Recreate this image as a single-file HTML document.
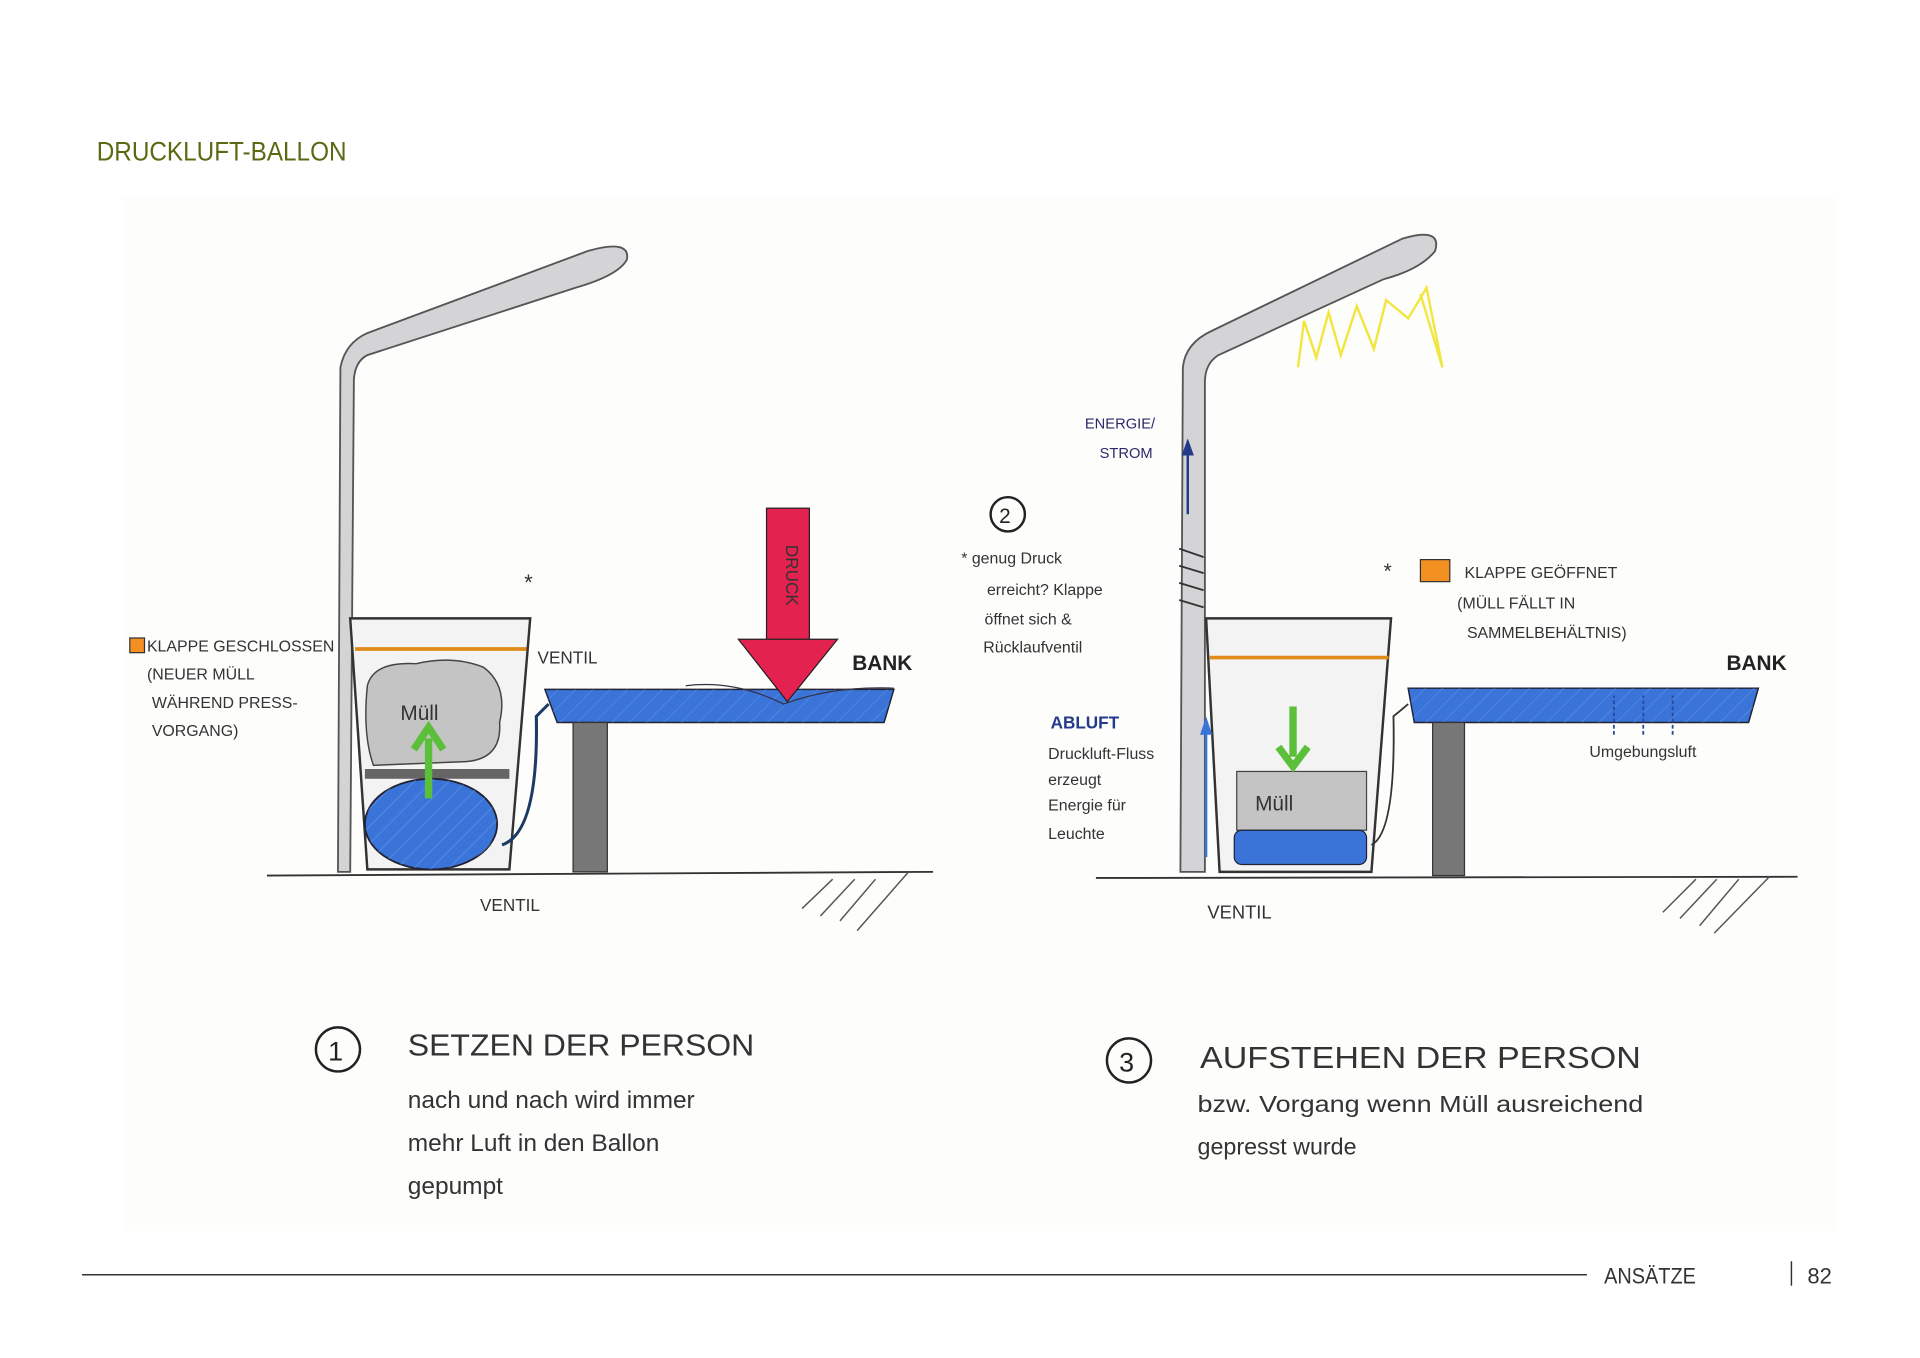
<!DOCTYPE html>
<html><head><meta charset="utf-8"><style>
html,body{margin:0;padding:0;background:#fff;width:1920px;height:1358px;overflow:hidden}
svg{display:block}
text{font-family:"Liberation Sans",sans-serif}
</style></head><body>
<svg width="1920" height="1358" viewBox="0 0 1568 1109" xmlns="http://www.w3.org/2000/svg">
<defs><pattern id="h" width="10" height="10" patternUnits="userSpaceOnUse" patternTransform="rotate(45)"><line x1="0" y1="0" x2="0" y2="10" stroke="#6a98e8" stroke-width="2"/></pattern></defs>
<rect x="100" y="160" width="1400" height="845" fill="#fdfdfc"/>
<text x="79" y="131" font-size="22" fill="#5a6a12" textLength="204" lengthAdjust="spacingAndGlyphs">DRUCKLUFT-BALLON</text>

<!-- LEFT SKETCH -->
<path d="M276,712 L278,300 Q282,280 300,272 L480,205 Q515,195 512,212 Q505,225 470,235 L300,290 Q290,295 289,310 L286,712 Z" fill="#d4d4d6" stroke="#555" stroke-width="1.5"/>
<line x1="218" y1="715" x2="762" y2="712" stroke="#333" stroke-width="1.5"/>
<g stroke="#555" stroke-width="1.2"><line x1="655" y1="742" x2="680" y2="718"/><line x1="670" y1="748" x2="698" y2="718"/><line x1="686" y1="752" x2="715" y2="718"/><line x1="700" y1="760" x2="742" y2="712"/></g>
<path d="M286,505 L433,505 L416,710 L300,710 Z" fill="#f3f3f3" stroke="#333" stroke-width="2"/>
<line x1="290" y1="530" x2="430" y2="530" stroke="#e08a1a" stroke-width="3"/>
<path d="M300,560 Q305,540 340,542 Q370,535 395,545 Q415,560 408,590 Q410,620 380,622 L305,625 Q296,600 300,560Z" fill="#c4c4c4" stroke="#444" stroke-width="1.2"/>
<rect x="298" y="628" width="118" height="8" fill="#666"/>
<ellipse cx="352" cy="673" rx="54" ry="37" fill="#3a74d8" stroke="#223" stroke-width="1.5"/>
<ellipse cx="352" cy="673" rx="54" ry="37" fill="url(#h)" opacity="0.5"/>
<path d="M350,652 L350,603 M338,612 L350,594 L362,612" stroke="#5bbf3a" stroke-width="6" fill="none"/>
<text x="327" y="588" font-size="17" fill="#333">Müll</text>
<path d="M410,690 Q440,680 438,585 L448,575" stroke="#1b3a66" stroke-width="2.5" fill="none"/>
<path d="M445,563 L730,563 L722,590 L455,590 Z" fill="#3a74d8" stroke="#223" stroke-width="1.2"/>
<path d="M445,563 L730,563 L722,590 L455,590 Z" fill="url(#h)" opacity="0.4"/>
<path d="M560,560 Q600,555 640,575 Q680,560 730,562" stroke="#334" fill="none"/>
<rect x="468" y="590" width="28" height="122" fill="#777" stroke="#333"/>
<rect x="626" y="415" width="35" height="108" fill="#e3224f" stroke="#222"/>
<path d="M603,522 L684,522 L643,573 Z" fill="#e3224f" stroke="#222"/>
<text transform="translate(642,445) rotate(90)" font-size="14" fill="#333">DRUCK</text>
<text x="696" y="547" font-size="17" font-weight="bold" fill="#222">BANK</text>
<text x="439" y="542" font-size="14" fill="#333">VENTIL</text>
<text x="392" y="744" font-size="14" fill="#333">VENTIL</text>
<text x="428" y="482" font-size="18" fill="#333">*</text>
<rect x="106" y="521" width="12" height="12" fill="#f29022" stroke="#333"/>
<g font-size="13" fill="#333"><text x="120" y="532">KLAPPE GESCHLOSSEN</text><text x="120" y="555">(NEUER MÜLL</text><text x="124" y="578">WÄHREND PRESS-</text><text x="124" y="601">VORGANG)</text></g>

<!-- RIGHT SKETCH -->
<path d="M964,712 L966,300 Q968,280 990,270 L1145,195 Q1178,185 1172,205 Q1160,220 1130,228 L995,290 Q984,297 984,312 L984,712 Z" fill="#d4d4d6" stroke="#555" stroke-width="1.5"/>
<path d="M1060,300 L1065,262 L1075,292 L1085,255 L1095,290 L1108,250 L1122,285 L1132,245 L1150,260 L1165,235 L1178,300 L1160,240" stroke="#f2e640" stroke-width="2" fill="none"/>
<line x1="970" y1="420" x2="970" y2="360" stroke="#223a8a" stroke-width="2"/><path d="M965,372 L970,358 L975,372Z" fill="#223a8a"/>
<g stroke="#333" stroke-width="1.5"><path d="M963,448 L983,455 M963,462 L983,468 M963,476 L983,482 M963,490 L983,496"/></g>
<line x1="895" y1="717" x2="1468" y2="716" stroke="#333" stroke-width="1.5"/>
<g stroke="#555" stroke-width="1.2"><line x1="1358" y1="745" x2="1385" y2="718"/><line x1="1372" y1="750" x2="1402" y2="718"/><line x1="1388" y1="756" x2="1420" y2="718"/><line x1="1400" y1="762" x2="1445" y2="716"/></g>
<path d="M985,505 L1136,505 L1120,712 L996,712 Z" fill="#f3f3f3" stroke="#333" stroke-width="2"/>
<line x1="988" y1="537" x2="1134" y2="537" stroke="#e08a1a" stroke-width="3"/>
<rect x="1010" y="630" width="106" height="48" fill="#c4c4c4" stroke="#444"/>
<text x="1025" y="662" font-size="17" fill="#333">Müll</text>
<rect x="1008" y="678" width="108" height="28" rx="6" fill="#3a74d8" stroke="#223"/>
<path d="M1056,577 L1056,618 M1044,610 L1056,626 L1068,610" stroke="#5bbf3a" stroke-width="6" fill="none"/>
<line x1="985" y1="700" x2="985" y2="590" stroke="#3a74d8" stroke-width="2"/><path d="M980,600 L985,585 L990,600Z" fill="#3a74d8"/>
<path d="M1120,690 Q1140,680 1138,585 L1150,575" stroke="#333" stroke-width="1.5" fill="none"/>
<path d="M1150,562 L1436,562 L1428,590 L1155,590 Z" fill="#3a74d8" stroke="#223" stroke-width="1.2"/>
<path d="M1150,562 L1436,562 L1428,590 L1155,590 Z" fill="url(#h)" opacity="0.4"/>
<rect x="1170" y="590" width="26" height="125" fill="#777" stroke="#333"/>
<g stroke="#2a4aa0" stroke-width="1.5" stroke-dasharray="3,2"><line x1="1318" y1="600" x2="1318" y2="568"/><line x1="1342" y1="600" x2="1342" y2="568"/><line x1="1366" y1="600" x2="1366" y2="568"/></g>
<text x="1410" y="547" font-size="17" font-weight="bold" fill="#222">BANK</text>
<text x="1298" y="618" font-size="13" fill="#333">Umgebungsluft</text>
<text x="986" y="750" font-size="15" fill="#333">VENTIL</text>
<g font-size="12" fill="#2a2a6a"><text x="886" y="350">ENERGIE/</text><text x="898" y="374">STROM</text></g>
<circle cx="823" cy="420" r="14" fill="none" stroke="#222" stroke-width="2"/><text x="816" y="427" font-size="17" fill="#222">2</text>
<g font-size="13" fill="#333"><text x="785" y="460">* genug Druck</text><text x="806" y="486">erreicht? Klappe</text><text x="804" y="510">öffnet sich &amp;</text><text x="803" y="533">Rücklaufventil</text></g>
<text x="1130" y="472" font-size="17" fill="#333">*</text>
<rect x="1160" y="457" width="24" height="18" fill="#f29022" stroke="#333"/>
<g font-size="13" fill="#333"><text x="1196" y="472">KLAPPE GEÖFFNET</text><text x="1190" y="497">(MÜLL FÄLLT IN</text><text x="1198" y="521">SAMMELBEHÄLTNIS)</text></g>
<text x="858" y="595" font-size="14" font-weight="bold" fill="#233a8a">ABLUFT</text>
<g font-size="13" fill="#333"><text x="856" y="620">Druckluft-Fluss</text><text x="856" y="641">erzeugt</text><text x="856" y="662">Energie für</text><text x="856" y="685">Leuchte</text></g>

<!-- captions -->
<circle cx="276" cy="857" r="18" fill="none" stroke="#222" stroke-width="2"/><text x="268" y="866" font-size="22" fill="#222">1</text>
<text x="333" y="862" font-size="25" fill="#333" textLength="283" lengthAdjust="spacingAndGlyphs">SETZEN DER PERSON</text>
<g font-size="20" fill="#333"><text x="333" y="905">nach und nach wird immer</text><text x="333" y="940">mehr Luft in den Ballon</text><text x="333" y="975">gepumpt</text></g>
<circle cx="922" cy="866" r="18" fill="none" stroke="#222" stroke-width="2"/><text x="914" y="875" font-size="22" fill="#222">3</text>
<text x="980" y="872" font-size="25" fill="#333" textLength="360" lengthAdjust="spacingAndGlyphs">AUFSTEHEN DER PERSON</text>
<g font-size="19" fill="#333"><text x="978" y="908" textLength="364" lengthAdjust="spacingAndGlyphs">bzw. Vorgang wenn Müll ausreichend</text><text x="978" y="943">gepresst wurde</text></g>

<!-- footer -->
<line x1="67" y1="1041" x2="1296" y2="1041" stroke="#333" stroke-width="1.2"/>
<text x="1310" y="1048" font-size="18" fill="#333" textLength="75" lengthAdjust="spacingAndGlyphs">ANSÄTZE</text>
<line x1="1463" y1="1030" x2="1463" y2="1050" stroke="#333" stroke-width="1.2"/>
<text x="1476" y="1048" font-size="18" fill="#333">82</text>
</svg>
</body></html>
